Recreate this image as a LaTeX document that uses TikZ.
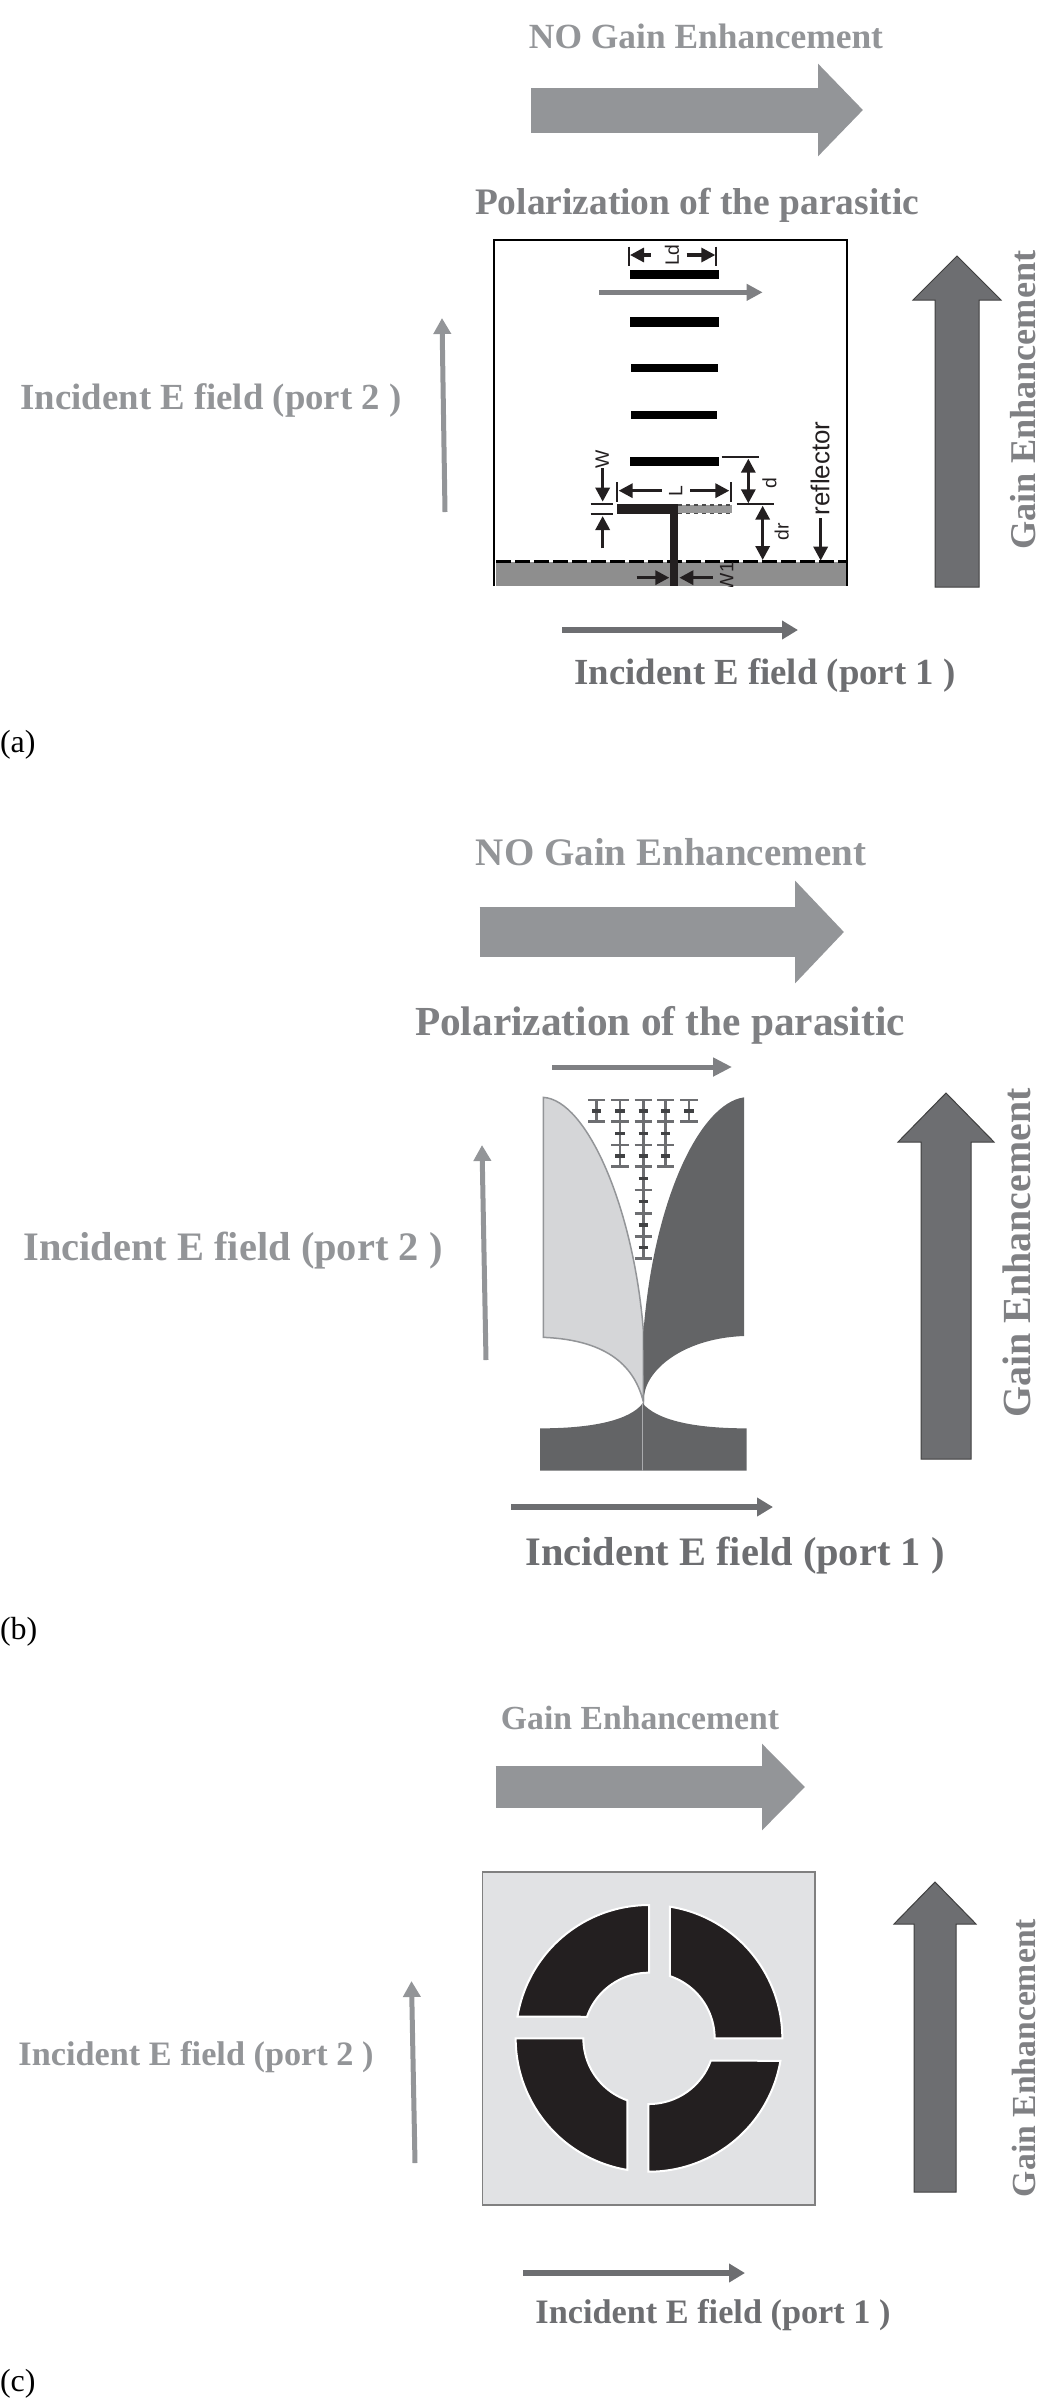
\documentclass[tikz,border=0pt]{standalone}
\usepackage{fontspec}
\usepackage{graphicx}
\setmainfont{Liberation Serif}
\newfontfamily\dimfont{Liberation Sans}
\usetikzlibrary{arrows.meta}
\newlength{\pxu}\setlength{\pxu}{0.75pt}
\definecolor{lightlab}{HTML}{939598}
\definecolor{darklab}{HTML}{6D6E71}
\definecolor{polar}{HTML}{7F8083}
\definecolor{ground}{HTML}{8E8E8E}
\definecolor{patch}{HTML}{E1E2E4}
\definecolor{lightfin}{HTML}{D5D6D8}
\definecolor{darkfin}{HTML}{636466}
\definecolor{ink}{HTML}{231F20}
% Bold caption scaled to a given width in pixels
\newcommand{\capt}[2]{\resizebox{#1\pxu}{!}{\bfseries\fontsize{27}{30}\selectfont #2}}
% Upright block arrow: x, bottom, head base, tip, half shaft, half head
\newcommand{\upblock}[6]{\draw[blockup] (#1-#5,#2) -- (#1-#5,#3) -- (#1-#6,#3) -- (#1,#4) -- (#1+#6,#3) -- (#1+#5,#3) -- (#1+#5,#2) -- cycle;}
% Ring quadrant given outer and inner angle ranges
\newcommand{\ringpiece}[4]{\fill[ink,draw=white,line width=2\pxu]
  plot[domain=#1:#2,samples=50,variable=\t] ({537+400*cos(\t)},{535+400*sin(\t)}) --
  plot[domain=#3:#4,samples=30,variable=\t] ({537+197*cos(\t)},{535+197*sin(\t)}) -- cycle;}
\tikzset{
  lab/.style={inner sep=0,outer sep=0,anchor=center},
  lightcap/.style={lab,text=lightlab},
  darkcap/.style={lab,text=darklab},
  tag/.style={lab,anchor=west,font=\fontsize{24}{26}\selectfont,text=black},
  blockup/.style={fill=darklab,draw=black!75,line width=1\pxu},
  portlight/.style={lightlab,line width=5\pxu,-{Triangle[length=12pt,width=12.75pt]}},
  portdark/.style={darklab,line width=6\pxu,-{Triangle[length=12pt,width=13.5pt]}},
  bar/.style={fill=black,draw=none},
  dimline/.style={ink,line width=3.2\pxu,-{Triangle[length=10.5pt,width=10.5pt]}},
  dimboth/.style={ink,line width=3.2\pxu,{Triangle[length=10.5pt,width=10.5pt]}-{Triangle[length=10.5pt,width=10.5pt]}},
  tick/.style={ink,line width=2.2\pxu},
  dimtxt/.style={lab,rotate=90,text=ink,font=\dimfont\fontsize{14.5}{16}\selectfont},
}
\begin{document}
\begin{tikzpicture}[x=1\pxu,y=-1\pxu]
\useasboundingbox (0,0) rectangle (1063,2400);

% ---------- panel (a): dipole with directors ----------
\node[lightcap] (a-no) at (706,36) {\capt{354}{NO Gain Enhancement}};
\coordinate (a-bs) at (531,110); \coordinate (a-be) at (863,110);
\draw[lightlab,line width=45\pxu,-{Triangle[length=33.75pt,width=67.5pt]}] (a-bs) -- (a-be);
\node[darkcap,text=polar] (a-pol) at (697,205) {\capt{444}{Polarization of the parasitic}};

\begin{scope}[shift={(470,220)},x=0.25pt,y=-0.25pt]
  \fill[ground] (78,1025) rectangle (1128,1098);
  \draw[black,line width=2.2\pxu] (72,1098) -- (72,60) -- (1130,60) -- (1130,1098);
  \draw[black,line width=3\pxu,dash pattern=on 15\pxu off 4\pxu] (78,1024) -- (1128,1024);
  % directors
  \fill[bar] (480,150) rectangle (746,178);
  \fill[bar] (480,291) rectangle (746,321);
  \fill[bar] (482,431) rectangle (743,457);
  \fill[bar] (483,572) rectangle (742,597);
  \fill[bar] (480,710) rectangle (746,739);
  % driven element and feed
  \fill[ink] (441,853) rectangle (625,882);
  \fill[ink] (600,882) rectangle (625,1098);
  \fill[gray!80] (625,855) rectangle (785,880);
  \draw[black!70,line width=1.2\pxu,dashed] (625,855) -- (785,855) (625,880) -- (785,880);
  % polarization of the parasitic
  \coordinate (a-ps) at (388,217); \coordinate (a-pe) at (878,217);
  \draw[polar,line width=5\pxu,-{Triangle[length=12pt,width=12pt]}] (a-ps) -- (a-pe);
  % Ld
  \draw[tick] (477,80) -- (477,138) (738,80) -- (738,138);
  \coordinate (ld1) at (542,105); \coordinate (ld2) at (480,105);
  \coordinate (ld3) at (650,105); \coordinate (ld4) at (736,105);
  \draw[dimline] (ld1) -- (ld2); \draw[dimline] (ld3) -- (ld4);
  \node[dimtxt] (ld-t) at (606,105) {Ld};
  % W
  \draw[tick] (362,851) -- (430,851) (362,882) -- (430,882);
  \coordinate (w1) at (398,745); \coordinate (w2) at (398,845);
  \coordinate (w3) at (398,985); \coordinate (w4) at (398,888);
  \draw[dimline] (w1) -- (w2); \draw[dimline] (w3) -- (w4);
  \node[dimtxt] (w-t) at (397,718) {W};
  % L
  \draw[tick] (441,787) -- (441,847) (783,787) -- (783,847);
  \coordinate (l1) at (575,812); \coordinate (l2) at (446,812);
  \coordinate (l3) at (660,812); \coordinate (l4) at (778,812);
  \draw[dimline] (l1) -- (l2); \draw[dimline] (l3) -- (l4);
  \node[dimtxt] (l-t) at (617,812) {L};
  % d and dr
  \draw[tick] (755,712) -- (868,712) (800,853) -- (912,853);
  \coordinate (d1) at (835,716); \coordinate (d2) at (835,850);
  \coordinate (r1) at (878,857); \coordinate (r2) at (878,1020);
  \draw[dimboth] (d1) -- (d2); \draw[dimboth] (r1) -- (r2);
  \node[dimtxt] (d-t) at (898,790) {d};
  \node[dimtxt] (dr-t) at (935,935) {dr};
  % reflector
  \coordinate (rf1) at (1052,895); \coordinate (rf2) at (1052,1022);
  \draw[dimline] (rf1) -- (rf2);
  \node[dimtxt,font=\dimfont\fontsize{19.4}{21}\selectfont] (rf-t) at (1050,745) {reflector};
  % feed width
  \coordinate (v1) at (500,1073); \coordinate (v2) at (598,1073);
  \coordinate (v3) at (728,1073); \coordinate (v4) at (628,1073);
  \draw[dimline] (v1) -- (v2); \draw[dimline] (v3) -- (v4);
  \begin{scope}
    \clip (700,1000) rectangle (850,1098);
    \node[dimtxt] (v-t) at (770,1070) {W1};
  \end{scope}
\end{scope}

\upblock{957}{587}{300}{256}{22}{44}
\node[darkcap,rotate=90,text=polar] (a-gain) at (1023,400) {\capt{299}{Gain Enhancement}};
\node[lightcap] (a-p2) at (211,400) {\capt{381}{Incident E field (port 2 )}};
\coordinate (a-2s) at (445,512); \coordinate (a-2e) at (442,318);
\draw[portlight] (a-2s) -- (a-2e);
\coordinate (a-1s) at (562,630); \coordinate (a-1e) at (798,630);
\draw[portdark] (a-1s) -- (a-1e);
\node[darkcap] (a-p1) at (765,675) {\capt{381}{Incident E field (port 1 )}};
\node[tag] (a-tag) at (0,745) {(a)};

% ---------- panel (b): tapered slot with fractal parasitic ----------
\node[lightcap] (b-no) at (671,852) {\capt{390}{NO Gain Enhancement}};
\coordinate (b-bs) at (479.5,932); \coordinate (b-be) at (844,932);
\draw[lightlab,line width=50\pxu,-{Triangle[length=36.75pt,width=75pt]}] (b-bs) -- (b-be);
\node[darkcap,text=polar] (b-pol) at (660,1025) {\capt{490}{Polarization of the parasitic}};
\coordinate (b-ps) at (552,1067); \coordinate (b-pe) at (732,1067);
\draw[polar,line width=5\pxu,-{Triangle[length=14.25pt,width=13.5pt]}] (b-ps) -- (b-pe);

\begin{scope}[shift={(500,1040)},x=0.25pt,y=-0.25pt]
  % parasitic strips
  \foreach \cx/\rows in {290/{180,245},360/{180,245,315,380},430/{180,245,315,380,450,520,590,655},497/{180,245,315,380},567/{180,245}}{
    \foreach \ry [remember=\ry as \py (initially -1)] in \rows {
      \draw[darklab,line width=2.7\pxu] (\cx-26,\ry) -- (\cx+26,\ry);
      \ifnum\py>-1
        \draw[darklab,line width=2.7\pxu] (\cx,\py) -- (\cx,\ry);
        \draw[darklab!60!black,line width=3.6\pxu] (\cx-14,{(\py+\ry)/2}) -- (\cx+14,{(\py+\ry)/2});
      \fi
    }
  }
  % light fin
  \fill[lightfin,draw=lightlab,line width=1.5\pxu] (130,172)
    .. controls (260,180) and (400,500) .. (430,870)
    -- (430,1085)
    .. controls (405,985) and (330,900) .. (130,892) -- cycle;
  % dark fin
  \fill[darkfin] (732,172)
    .. controls (600,190) and (460,480) .. (430,880)
    -- (432,1085)
    .. controls (425,1000) and (540,895) .. (732,888) -- cycle;
  % lower ground section
  \fill[darkfin] (120,1292) -- (120,1165)
    .. controls (280,1165) and (390,1140) .. (428,1090)
    .. controls (470,1140) and (580,1165) .. (740,1165)
    -- (740,1292) -- cycle;
  \draw[lightlab!80!white,line width=1.5\pxu] (428,1090) -- (428,1292);
\end{scope}

\upblock{946}{1459}{1142}{1093}{25}{48}
\node[darkcap,rotate=90,text=polar] (b-gain) at (1017,1253) {\capt{329}{Gain Enhancement}};
\node[lightcap] (b-p2) at (233,1251) {\capt{419}{Incident E field (port 2 )}};
\coordinate (b-2s) at (486,1360); \coordinate (b-2e) at (482,1145);
\draw[portlight] (b-2s) -- (b-2e);
\coordinate (b-1s) at (511,1507); \coordinate (b-1e) at (773,1507);
\draw[portdark] (b-1s) -- (b-1e);
\node[darkcap] (b-p1) at (735,1556) {\capt{419}{Incident E field (port 1 )}};
\node[tag] (b-tag) at (0,1632) {(b)};

% ---------- panel (c): slotted ring ----------
\node[lightcap] (c-no) at (640,1718) {\capt{278}{Gain Enhancement}};
\coordinate (c-bs) at (495.5,1787); \coordinate (c-be) at (805,1787);
\draw[lightlab,line width=42\pxu,-{Triangle[length=32.25pt,width=63pt]}] (c-bs) -- (c-be);

\begin{scope}[shift={(470,1860)},x=0.25pt,y=-0.25pt]
  \fill[patch,draw=gray,line width=1.5\pxu] (38,36) rectangle (1035,1035);
  \ringpiece{-90}{-170.6}{-160.8}{-90}
  \ringpiece{-81}{0}{0}{-71.4}
  \ringpiece{9.7}{90.3}{90.6}{19.8}
  \ringpiece{180}{99.3}{109.2}{180}
\end{scope}

\upblock{935}{2192}{1924}{1882}{21}{41}
\node[darkcap,rotate=90,text=polar] (c-gain) at (1024,2058) {\capt{278}{Gain Enhancement}};
\node[lightcap] (c-p2) at (196,2057) {\capt{355}{Incident E field (port 2 )}};
\coordinate (c-2s) at (415,2163); \coordinate (c-2e) at (411.5,1981);
\draw[portlight] (c-2s) -- (c-2e);
\coordinate (c-1s) at (523,2273); \coordinate (c-1e) at (745,2273);
\draw[portdark] (c-1s) -- (c-1e);
\node[darkcap] (c-p1) at (713,2315) {\capt{355}{Incident E field (port 1 )}};
\node[tag] (c-tag) at (0,2384) {(c)};
\end{tikzpicture}
\end{document}
